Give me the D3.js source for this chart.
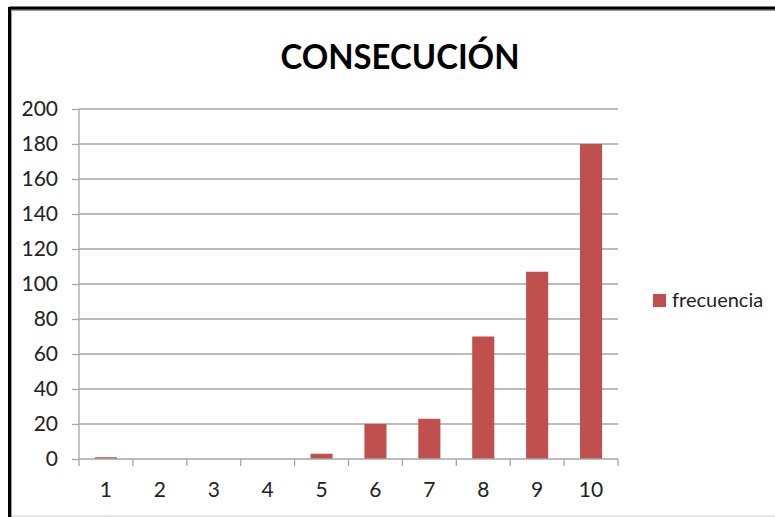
<!DOCTYPE html>
<html>
<head>
<meta charset="utf-8">
<script src="https://cdn.jsdelivr.net/npm/d3@7"></script>
<style>
    body { margin: 0; background: #fff; }
    svg { display: block; font-family: Lato, 'Noto Sans', sans-serif; }
    .grid line { stroke: #a6a6a6; stroke-width: 1.3; }
    .axis path, .axis line { stroke: #a6a6a6; stroke-width: 1.3; }
</style>
</head>
<body>
<div id="chart"></div>
<script>
// data
const categories = ['1', '2', '3', '4', '5', '6', '7', '8', '9', '10'];
const frecuencia = [1, 0, 0, 0, 3, 20, 23, 70, 107, 180];
const yTicks = [0, 20, 40, 60, 80, 100, 120, 140, 160, 180, 200];
const seriesName = 'frecuencia';
const chartTitle = 'CONSECUCIÓN';

const width = 775;
const height = 517;
const margin = { top: 109, right: 157, bottom: 58, left: 79 };
const graphWidth = width - margin.left - margin.right;
const graphHeight = height - margin.top - margin.bottom;

const svg = d3.select('#chart')
    .append('svg')
    .attr('width', width)
    .attr('height', height);

// frame
svg.append('rect')
    .attr('x', 11).attr('y', 10)
    .attr('width', width).attr('height', 506)
    .attr('fill', 'none')
    .attr('stroke', '#999').attr('stroke-width', 2);
svg.append('line')
    .attr('x1', 9.5).attr('x2', width).attr('y1', 8).attr('y2', 8)
    .attr('stroke', '#000').attr('stroke-width', 3);
svg.append('line')
    .attr('x1', 9.5).attr('x2', 9.5).attr('y1', 7).attr('y2', height)
    .attr('stroke', '#000').attr('stroke-width', 3);
svg.append('line')
    .attr('x1', 12).attr('x2', width).attr('y1', 516).attr('y2', 516)
    .attr('stroke', '#e6e6e6').attr('stroke-width', 2);

// title
svg.append('text')
    .attr('x', 400)
    .attr('y', 69)
    .attr('text-anchor', 'middle')
    .attr('font-size', 35)
    .attr('font-weight', 'bold')
    .attr('textLength', 239)
    .attr('lengthAdjust', 'spacingAndGlyphs')
    .attr('fill', '#000')
    .text(chartTitle);

const chart = svg.append('g')
    .attr('transform', `translate(${margin.left}, ${margin.top})`);

// scales
const x = d3.scaleBand()
    .domain(categories)
    .range([0, graphWidth])
    .paddingInner(0.59)
    .paddingOuter(0.295);

const xTicks = d3.scaleBand().domain(categories).range([0, graphWidth]);

const y = d3.scaleLinear()
    .domain([0, 200])
    .range([graphHeight, 0]);

// gridlines
chart.append('g')
    .attr('class', 'grid')
    .selectAll('line')
    .data(yTicks.filter(d => d > 0))
    .enter()
    .append('line')
    .attr('x1', 0)
    .attr('x2', graphWidth)
    .attr('y1', d => y(d))
    .attr('y2', d => y(d));

// bars
chart.selectAll('rect.bar')
    .data(frecuencia)
    .enter()
    .append('rect')
    .attr('class', 'bar')
    .attr('x', (d, i) => x(categories[i]))
    .attr('y', d => y(d))
    .attr('width', x.bandwidth())
    .attr('height', d => graphHeight - y(d))
    .attr('fill', '#c0504d');

// axes
const yAxis = d3.axisLeft(y)
    .tickValues(yTicks)
    .tickSize(7)
    .tickPadding(14);

const yAxisGroup = chart.append('g')
    .attr('class', 'axis')
    .call(yAxis)
    .attr('font-family', null)
    .attr('font-size', 21);
yAxisGroup.select('.domain').attr('d', `M0,0V${graphHeight}`);
yAxisGroup.selectAll('text').attr('fill', '#222');

const xAxisGroup = chart.append('g')
    .attr('class', 'axis')
    .attr('font-size', 21)
    .attr('transform', `translate(0, ${graphHeight})`);

xAxisGroup.append('line')
    .attr('x1', 0).attr('x2', graphWidth)
    .attr('y1', 0).attr('y2', 0);

xAxisGroup.selectAll('line.tick')
    .data(categories.concat(['end']))
    .enter()
    .append('line')
    .attr('class', 'tick')
    .attr('x1', (d, i) => i * xTicks.step())
    .attr('x2', (d, i) => i * xTicks.step())
    .attr('y1', 0)
    .attr('y2', 7);

xAxisGroup.selectAll('text')
    .data(categories)
    .enter()
    .append('text')
    .attr('x', d => xTicks(d) + xTicks.bandwidth() / 2)
    .attr('y', 38)
    .attr('text-anchor', 'middle')
    .attr('fill', '#222')
    .text(d => d);

// legend
const legend = svg.append('g')
    .attr('transform', 'translate(653, 294)');
legend.append('rect')
    .attr('width', 13)
    .attr('height', 13)
    .attr('fill', '#c0504d');
legend.append('text')
    .attr('x', 19)
    .attr('y', 13)
    .attr('font-size', 20)
    .attr('fill', '#222')
    .text(seriesName);
</script>
</body>
</html>
